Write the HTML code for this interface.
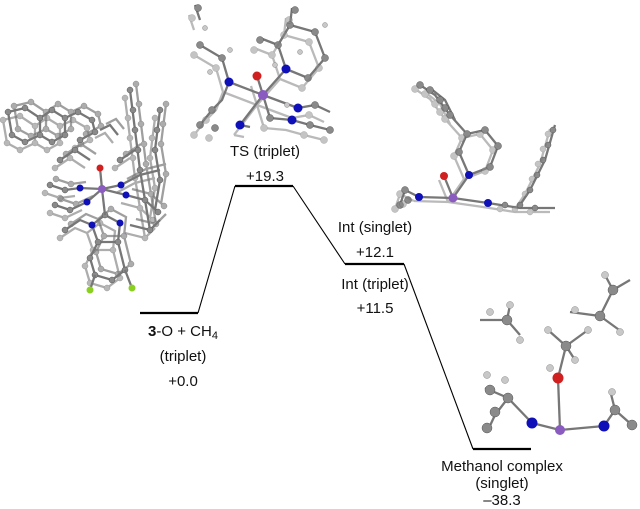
<!DOCTYPE html>
<html><head><meta charset="utf-8"><style>
html,body{margin:0;padding:0;background:#fff}
svg{display:block}
text{font-family:"Liberation Sans",sans-serif;font-size:15px;fill:#111}
.b{stroke:#777;stroke-width:2.3;fill:none}
.g{fill:#8a8a8a;stroke:#555;stroke-width:.5}
.h{fill:#c8c8c8;stroke:#888;stroke-width:.5}
.n{fill:#1010b8}.o{fill:#d02020}.m{fill:#8a5cc0}.f{fill:#8bd020}
</style></head><body>
<svg width="640" height="509" viewBox="0 0 640 509" xmlns="http://www.w3.org/2000/svg">
<defs>
<g id="leftmol">
<g class="b">
<path d="M8,112 L25,108 L40,118 L40,135 L25,142 L12,135 Z"/>
<path d="M40,118 L52,110 L65,118 L65,135 L52,142 L40,135"/>
<path d="M65,118 L78,112 L92,120 L95,132 L80,140"/>
<path d="M100,130 L110,125 L118,135"/>
<path d="M130,90 L135,130 L140,170 L145,200 L150,230"/>
<path d="M160,110 L155,150 L160,180 L155,210"/>
<path d="M50,185 L65,190 L80,188 M55,205 L70,210 L87,202"/>
<path d="M92,225 L105,215 L120,223 L118,242 L98,242 L92,225"/>
<path d="M98,242 L90,258 L95,275 L112,280 L125,270 L118,242"/>
<path d="M126,195 L145,200 L158,212 M121,185 L140,175 L160,170"/>
<path d="M60,160 L75,150 L90,160 M120,160 L135,150"/>
<path d="M65,230 L80,220 L92,225 M130,225 L150,230 L160,220"/>
</g>
<g class="g">
<circle cx="25" cy="108" r="3"/><circle cx="40" cy="118" r="3"/><circle cx="40" cy="135" r="3"/><circle cx="25" cy="142" r="3"/><circle cx="12" cy="135" r="3"/><circle cx="8" cy="112" r="3"/>
<circle cx="52" cy="110" r="3"/><circle cx="65" cy="118" r="3"/><circle cx="65" cy="135" r="3"/><circle cx="52" cy="142" r="3"/>
<circle cx="78" cy="112" r="3"/><circle cx="92" cy="120" r="3"/><circle cx="95" cy="132" r="3"/><circle cx="80" cy="140" r="3"/>
<circle cx="130" cy="90" r="3"/><circle cx="133" cy="110" r="3"/><circle cx="135" cy="130" r="3"/><circle cx="138" cy="150" r="3"/><circle cx="140" cy="170" r="3"/><circle cx="160" cy="110" r="3"/><circle cx="157" cy="130" r="3"/><circle cx="155" cy="150" r="3"/><circle cx="160" cy="180" r="3"/>
<circle cx="105" cy="215" r="3"/><circle cx="98" cy="242" r="3"/><circle cx="118" cy="242" r="3"/><circle cx="90" cy="258" r="3"/><circle cx="95" cy="275" r="3"/><circle cx="112" cy="280" r="3"/><circle cx="125" cy="270" r="3"/>
<circle cx="50" cy="185" r="3"/><circle cx="65" cy="190" r="3"/><circle cx="55" cy="205" r="3"/><circle cx="70" cy="210" r="3"/><circle cx="145" cy="200" r="3"/><circle cx="158" cy="212" r="3"/><circle cx="60" cy="160" r="3"/><circle cx="75" cy="150" r="3"/><circle cx="120" cy="160" r="3"/><circle cx="65" cy="230" r="3"/><circle cx="150" cy="230" r="3"/>
</g>
</g>
</defs>
<!-- energy levels -->
<g stroke="#000" stroke-width="2.2">
<line x1="140" y1="313" x2="198" y2="313"/>
<line x1="235" y1="186" x2="293" y2="186"/>
<line x1="345" y1="264" x2="404" y2="264"/>
<line x1="473" y1="449" x2="531" y2="449"/>
</g>
<g stroke="#000" stroke-width="1.1" fill="none">
<line x1="198" y1="313" x2="235" y2="186"/>
<line x1="293" y1="186" x2="345" y2="264"/>
<line x1="404" y1="264" x2="473" y2="449"/>
</g>
<text x="265" y="156" text-anchor="middle">TS (triplet)</text>
<text x="265" y="181" text-anchor="middle">+19.3</text>
<text x="375" y="232" text-anchor="middle">Int (singlet)</text>
<text x="375" y="257" text-anchor="middle">+12.1</text>
<text x="375" y="289" text-anchor="middle">Int (triplet)</text>
<text x="375" y="313" text-anchor="middle">+11.5</text>
<text x="183" y="336" text-anchor="middle"><tspan font-weight="bold">3</tspan>-O + CH<tspan font-size="11" dy="3">4</tspan></text>
<text x="183" y="361" text-anchor="middle">(triplet)</text>
<text x="183" y="386" text-anchor="middle">+0.0</text>
<text x="502" y="471" text-anchor="middle">Methanol complex</text>
<text x="502" y="488" text-anchor="middle">(singlet)</text>
<text x="502" y="505" text-anchor="middle">–38.3</text>

<!-- left molecule -->
<use href="#leftmol" transform="translate(6,-6)" opacity="0.7"/>
<use href="#leftmol" transform="translate(-5,8)" opacity="0.6"/>
<use href="#leftmol"/>
<g class="b">
<path d="M102,189 L80,188 M102,189 L87,202 M102,189 L121,185 M102,189 L126,195 M102,189 L100,168 M102,189 L105,215"/>
<path d="M95,275 L90,290 M125,270 L132,288"/>
</g>
<circle class="o" cx="100" cy="168" r="3.5"/><circle class="m" cx="102" cy="189" r="4"/>
<circle class="n" cx="80" cy="188" r="3.5"/><circle class="n" cx="87" cy="202" r="3.5"/><circle class="n" cx="121" cy="185" r="3.5"/><circle class="n" cx="126" cy="195" r="3.5"/><circle class="n" cx="92" cy="225" r="3.5"/><circle class="n" cx="120" cy="223" r="3.5"/>
<circle class="f" cx="90" cy="290" r="3.5"/><circle class="f" cx="132" cy="288" r="3.5"/>

<!-- TS molecule -->
<g id="tsmol">
<g class="b">
<path d="M263,95 L229,82 M263,95 L286,69 M263,95 L257,76 M263,95 L298,108 M263,95 L240,125 M263,95 L270,118"/>
<path d="M229,82 L222,100 L212,110 L200,125 M229,82 L222,58 L200,45 M195,5 L200,20"/>
<path d="M286,69 L278,45 L290,25 L315,32 L325,58 L308,78 L286,69 M290,25 L292,8"/>
<path d="M298,108 L315,105 L330,112 M270,118 L292,120 L310,125 L330,130"/>
<path d="M240,125 L250,127 M278,45 L260,38"/>
</g>
<g class="g">
<circle cx="222" cy="58" r="3.5"/><circle cx="200" cy="45" r="3.5"/><circle cx="198" cy="8" r="3.5"/><circle cx="212" cy="110" r="3.5"/><circle cx="200" cy="125" r="3.5"/><circle cx="215" cy="128" r="3.5"/>
<circle cx="278" cy="45" r="3.5"/><circle cx="290" cy="25" r="3.5"/><circle cx="315" cy="32" r="3.5"/><circle cx="325" cy="58" r="3.5"/><circle cx="308" cy="78" r="3.5"/><circle cx="295" cy="10" r="3.5"/>
<circle cx="315" cy="105" r="3.5"/><circle cx="270" cy="118" r="3.5"/><circle cx="310" cy="125" r="3.5"/><circle cx="330" cy="130" r="3.5"/><circle cx="260" cy="40" r="3.5"/>
</g>
</g>
<use href="#tsmol" transform="translate(-6,10)" opacity="0.5"/>
<g class="h"><circle cx="230" cy="50" r="2.5"/><circle cx="325" cy="25" r="2.5"/><circle cx="210" cy="72" r="2.5"/><circle cx="275" cy="65" r="2.5"/><circle cx="300" cy="52" r="2.5"/><circle cx="205" cy="28" r="2.5"/><circle cx="287" cy="105" r="2.5"/></g>
<circle class="o" cx="257" cy="76" r="4.5"/><circle class="m" cx="263" cy="95" r="5"/>
<circle class="n" cx="229" cy="82" r="4.5"/><circle class="n" cx="286" cy="69" r="4.5"/><circle class="n" cx="298" cy="108" r="4.5"/><circle class="n" cx="292" cy="120" r="4.5"/><circle class="n" cx="240" cy="125" r="4.5"/>

<!-- Int molecule -->
<g id="intmol">
<g class="b">
<path d="M453,198 L444,176 M453,198 L469,175 M453,198 L419,197 M453,198 L488,203"/>
<path d="M469,175 L459,152 L467,134 L485,130 L498,146 L490,167 L469,175"/>
<path d="M467,134 L450,115 L435,95 L420,85 M455,120 L445,100 L430,88"/>
<path d="M419,197 L405,190 L400,205 M488,203 L520,208 L555,208"/>
<path d="M555,125 L545,160 L530,190 L520,205"/>
</g>
<g class="g">
<circle cx="459" cy="152" r="3.5"/><circle cx="467" cy="134" r="3.5"/><circle cx="485" cy="130" r="3.5"/><circle cx="498" cy="146" r="3.5"/><circle cx="490" cy="167" r="3.5"/>
<circle cx="450" cy="115" r="3.5"/><circle cx="440" cy="100" r="3.5"/><circle cx="430" cy="90" r="3.5"/><circle cx="420" cy="85" r="3.5"/><circle cx="445" cy="108" r="3.5"/>
<circle cx="405" cy="190" r="3.5"/><circle cx="400" cy="205" r="3.5"/><circle cx="408" cy="200" r="3.5"/>
<circle cx="553" cy="130" r="3"/><circle cx="548" cy="145" r="3"/><circle cx="543" cy="160" r="3"/><circle cx="537" cy="175" r="3"/><circle cx="530" cy="190" r="3"/><circle cx="520" cy="205" r="3"/><circle cx="505" cy="205" r="3"/><circle cx="535" cy="208" r="3"/>
</g>
</g>
<use href="#intmol" transform="translate(-5,4)" opacity="0.5"/>
<circle class="o" cx="444" cy="176" r="4"/><circle class="m" cx="453" cy="198" r="4.5"/>
<circle class="n" cx="469" cy="175" r="4"/><circle class="n" cx="419" cy="197" r="4"/><circle class="n" cx="488" cy="203" r="4"/>

<!-- Methanol complex -->
<g class="b" stroke-width="2.5">
<path d="M560,430 L558,378 L566,346 L548,330 M566,346 L588,330 M566,346 L575,360"/>
<path d="M560,430 L532,423 M560,430 L604,426"/>
<path d="M532,423 L508,398 L485,388 M508,398 L495,415 L488,430"/>
<path d="M604,426 L615,410 L632,425 M615,410 L610,390"/>
<path d="M480,320 L507,320 L520,335 M507,320 L510,305"/>
<path d="M570,312 L600,316 L613,290 L630,280 M600,316 L622,332 M613,290 L605,275"/>
</g>
<g class="g">
<circle cx="566" cy="346" r="5"/><circle cx="507" cy="320" r="5"/><circle cx="600" cy="316" r="5"/><circle cx="613" cy="290" r="5"/>
<circle cx="508" cy="398" r="5"/><circle cx="490" cy="390" r="5"/><circle cx="495" cy="412" r="5"/><circle cx="487" cy="428" r="5"/><circle cx="615" cy="410" r="5"/><circle cx="632" cy="425" r="5"/>
</g>
<g class="h"><circle cx="548" cy="330" r="3.5"/><circle cx="588" cy="330" r="3.5"/><circle cx="575" cy="360" r="3.5"/><circle cx="550" cy="368" r="3.5"/><circle cx="510" cy="305" r="3.5"/><circle cx="520" cy="340" r="3.5"/><circle cx="490" cy="312" r="3.5"/><circle cx="575" cy="310" r="3.5"/><circle cx="620" cy="332" r="3.5"/><circle cx="605" cy="275" r="3.5"/><circle cx="487" cy="375" r="3.5"/><circle cx="505" cy="380" r="3.5"/><circle cx="612" cy="392" r="3.5"/></g>
<circle class="o" cx="558" cy="378" r="5.5"/><circle class="m" cx="560" cy="430" r="5"/>
<circle class="n" cx="532" cy="423" r="5.5"/><circle class="n" cx="604" cy="426" r="5.5"/>
</svg>
</body></html>
